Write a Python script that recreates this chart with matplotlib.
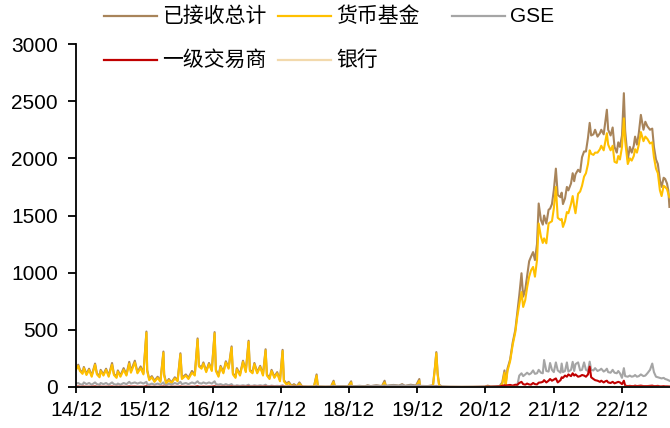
import pandas as pd
import matplotlib
matplotlib.use("Agg")
import matplotlib.pyplot as plt
from matplotlib.lines import Line2D

plt.rcParams['font.family'] = ['Liberation Sans', 'Noto Sans CJK SC', 'DejaVu Sans']

# dates (one row per year group)
dates = [
    # 2014-2015
    '2014-12-19', '2014-12-31', '2015-01-09', '2015-01-23', '2015-01-30', '2015-02-13', '2015-02-27',
    '2015-03-13', '2015-03-31', '2015-04-10', '2015-04-24', '2015-04-30', '2015-05-15', '2015-05-29',
    '2015-06-12', '2015-06-30', '2015-07-10', '2015-07-24', '2015-07-31', '2015-08-14', '2015-08-31',
    '2015-09-15', '2015-09-30', '2015-10-09', '2015-10-30', '2015-11-13', '2015-11-30', '2015-12-15',
    '2015-12-31',
    # 2016
    '2016-01-04', '2016-01-15', '2016-01-29', '2016-02-12', '2016-02-29', '2016-03-15', '2016-03-31',
    '2016-04-04', '2016-04-15', '2016-04-29', '2016-05-13', '2016-05-31', '2016-06-15', '2016-06-30',
    '2016-07-08', '2016-07-29', '2016-08-12', '2016-08-31', '2016-09-15', '2016-09-30', '2016-10-07',
    '2016-10-21', '2016-10-31', '2016-11-15', '2016-11-30', '2016-12-15', '2016-12-30',
    # 2017
    '2017-01-06', '2017-01-20', '2017-01-31', '2017-02-15', '2017-02-28', '2017-03-15', '2017-03-31',
    '2017-04-07', '2017-04-21', '2017-04-28', '2017-05-15', '2017-05-31', '2017-06-15', '2017-06-30',
    '2017-07-07', '2017-07-21', '2017-07-31', '2017-08-15', '2017-08-31', '2017-09-15', '2017-09-29',
    '2017-10-06', '2017-10-20', '2017-10-31', '2017-11-15', '2017-11-30', '2017-12-15', '2017-12-29',
    # 2018
    '2018-01-05', '2018-01-19', '2018-01-31', '2018-02-15', '2018-02-28', '2018-03-15', '2018-03-29',
    '2018-04-13', '2018-05-15', '2018-06-15', '2018-06-29', '2018-07-06', '2018-08-15', '2018-09-14',
    '2018-09-28', '2018-10-05', '2018-11-15', '2018-12-14', '2018-12-31',
    # 2019
    '2019-01-04', '2019-02-15', '2019-03-15', '2019-03-29', '2019-04-15', '2019-05-15', '2019-06-14',
    '2019-06-28', '2019-07-05', '2019-08-15', '2019-09-13', '2019-09-30', '2019-10-15', '2019-11-15',
    '2019-12-13', '2019-12-31',
    # 2020
    '2020-01-03', '2020-02-14', '2020-03-13', '2020-03-24', '2020-03-31', '2020-04-07', '2020-04-15',
    '2020-04-30', '2020-06-15', '2020-08-14', '2020-10-15', '2020-12-15', '2020-12-31',
    # 2021
    '2021-01-15', '2021-02-12', '2021-03-05', '2021-03-19', '2021-03-31', '2021-04-06', '2021-04-16',
    '2021-04-30', '2021-05-14', '2021-05-28', '2021-06-07', '2021-06-18', '2021-06-30', '2021-07-09',
    '2021-07-20', '2021-07-30', '2021-08-10', '2021-08-20', '2021-08-31', '2021-09-10', '2021-09-21',
    '2021-09-30', '2021-10-12', '2021-10-22', '2021-10-29', '2021-11-10', '2021-11-22', '2021-11-30',
    '2021-12-10', '2021-12-20', '2021-12-31',
    # 2022
    '2022-01-10', '2022-01-25', '2022-01-31', '2022-02-07', '2022-02-18', '2022-02-28', '2022-03-08',
    '2022-03-22', '2022-03-31', '2022-04-08', '2022-04-15', '2022-04-29', '2022-05-10', '2022-05-20',
    '2022-05-31', '2022-06-10', '2022-06-21', '2022-06-30', '2022-07-08', '2022-07-20', '2022-07-29',
    '2022-08-11', '2022-08-24', '2022-08-31', '2022-09-13', '2022-09-22', '2022-09-30', '2022-10-07',
    '2022-10-20', '2022-10-31', '2022-11-10', '2022-11-22', '2022-11-30', '2022-12-09', '2022-12-20',
    '2022-12-30',
    # 2023
    '2023-01-06', '2023-01-20', '2023-01-31', '2023-02-10', '2023-02-21', '2023-02-28', '2023-03-10',
    '2023-03-20', '2023-03-31', '2023-04-14', '2023-04-24', '2023-05-05', '2023-05-19', '2023-05-31',
    '2023-06-09', '2023-06-20', '2023-06-30', '2023-07-11', '2023-07-20', '2023-07-31', '2023-08-08',
    '2023-08-18', '2023-08-25', '2023-08-31',
]

# 已接收总计 (bn USD)
total = [
    160, 195, 150, 125, 175, 115, 160, 100, 205, 120, 95, 150, 110, 160, 100, 210, 115, 90, 145, 100,
    165, 110, 220, 140, 230, 130, 180, 120, 485,
    150, 70, 95, 55, 90, 55, 310, 110, 35, 70, 40, 85, 60, 295, 80, 110, 80, 140, 110, 425, 190, 170,
    215, 140, 210, 150, 480,
    150, 100, 185, 130, 225, 170, 355, 120, 90, 165, 110, 230, 140, 405, 150, 130, 210, 130, 185, 110,
    330, 110, 80, 150, 90, 130, 60, 325,
    60, 30, 45, 10, 25, 6, 40, 4, 3, 5, 110, 5, 3, 4, 55, 5, 8, 5, 50,
    6, 10, 6, 15, 8, 15, 8, 55, 10, 18, 12, 25, 10, 20, 12, 70,
    10, 8, 15, 180, 305, 120, 20, 4, 2, 1, 2, 3, 12,
    4, 6, 8, 40, 145, 25, 160, 240, 390, 500, 640, 800, 995, 790, 850, 970, 1100, 1140, 1180, 1110,
    1250, 1605, 1460, 1420, 1500, 1430, 1550, 1560, 1600, 1720, 1910,
    1680, 1660, 1700, 1600, 1650, 1750, 1720, 1780, 1870, 1800, 1860, 1900, 1880, 2010, 2060, 2060,
    2180, 2310, 2200, 2210, 2250, 2190, 2220, 2250, 2210, 2320, 2425, 2250, 2200, 2270, 2100, 2050,
    2140, 2100, 2200, 2570,
    2240, 1990, 2100, 2050, 2110, 2190, 2120, 2220, 2380, 2250, 2320, 2280, 2250, 2260, 2100, 1990,
    1950, 1810, 1750, 1830, 1820, 1780, 1720, 1575,
]

# 货币基金
mmf = [
    150, 185, 140, 115, 165, 105, 150, 90, 195, 110, 85, 140, 100, 150, 90, 195, 105, 80, 135, 90,
    150, 100, 205, 125, 215, 120, 165, 110, 475,
    140, 60, 85, 45, 80, 45, 300, 100, 28, 60, 32, 75, 50, 285, 70, 100, 70, 125, 100, 415, 180, 160,
    205, 130, 200, 140, 470,
    140, 90, 175, 120, 215, 160, 345, 110, 80, 155, 100, 220, 130, 395, 140, 120, 200, 120, 175, 100,
    320, 100, 70, 140, 80, 120, 50, 315,
    50, 22, 35, 5, 15, 2, 30, 1, 1, 1, 100, 1, 0, 0, 45, 0, 1, 0, 40,
    0, 2, 0, 5, 0, 2, 1, 40, 2, 3, 2, 10, 1, 5, 2, 55,
    2, 1, 5, 170, 295, 110, 10, 0, 0, 0, 0, 0, 5,
    0, 0, 0, 25, 125, 8, 140, 225, 370, 480, 610, 720, 830, 700, 760, 870, 965, 1020, 1050, 965,
    1110, 1430, 1315, 1260, 1300, 1257, 1430, 1440, 1450, 1560, 1750,
    1480, 1460, 1470, 1400, 1450, 1530, 1520, 1600, 1670, 1580, 1520, 1690, 1710, 1760, 1840, 1870,
    1950, 2070, 2040, 2030, 2050, 2050, 2080, 2110, 2070, 2150, 2220, 2120, 2070, 2110, 1970, 1960,
    2020, 1990, 2100, 2350,
    2150, 1950, 2000, 1980, 2020, 2080, 2050, 2120, 2230, 2150, 2190, 2170, 2130, 2140, 2010, 1910,
    1870, 1720, 1670, 1760, 1750, 1730, 1690, 1660,
]

# GSE
gse = [
    30, 35, 25, 20, 40, 25, 35, 20, 40, 25, 20, 35, 25, 35, 20, 40, 25, 20, 30, 20,
    35, 25, 45, 30, 40, 30, 40, 30, 45,
    25, 20, 30, 20, 30, 20, 40, 25, 15, 30, 20, 35, 25, 45, 25, 35, 25, 40, 30, 50, 35, 30,
    40, 30, 40, 30, 50,
    25, 20, 25, 15, 25, 15, 25, 12, 10, 15, 10, 15, 10, 20, 10, 10, 15, 10, 15, 10,
    20, 10, 8, 12, 8, 10, 8, 15,
    8, 6, 10, 4, 8, 3, 10, 2, 2, 3, 10, 3, 2, 3, 12, 4, 6, 4, 12,
    5, 8, 5, 10, 7, 12, 6, 15, 8, 15, 10, 18, 8, 15, 10, 20,
    8, 7, 8, 8, 10, 6, 5, 3, 1, 1, 1, 2, 4,
    2, 3, 3, 5, 5, 2, 5, 8, 8, 10, 10, 100, 120, 95, 110, 125, 110, 120, 145, 115,
    120, 150, 125, 120, 236, 140, 135, 210, 150, 130, 215,
    145, 125, 205, 130, 140, 215, 135, 150, 220, 140, 200, 215, 145, 150, 215, 150,
    140, 222, 150, 145, 165, 140, 150, 160, 135, 145, 160, 130, 125, 150, 125, 120,
    140, 120, 80, 165,
    95, 90, 100, 90, 95, 105, 90, 95, 110, 95, 100, 120, 150, 205, 130, 90,
    85, 80, 75, 80, 70, 65, 60, 55,
]

# 一级交易商
dealer = [
    3, 5, 2, 2, 4, 2, 3, 2, 6, 2, 2, 3, 2, 3, 2, 5, 2, 2, 3, 2,
    3, 2, 6, 3, 4, 2, 3, 2, 8,
    3, 2, 2, 2, 2, 2, 6, 3, 2, 2, 2, 3, 2, 5, 2, 3, 2, 3, 2, 8, 3, 2,
    4, 2, 4, 3, 8,
    3, 2, 3, 2, 3, 2, 6, 2, 2, 3, 2, 3, 2, 6, 2, 2, 3, 2, 3, 2,
    5, 2, 2, 3, 2, 2, 2, 5,
    2, 1, 2, 1, 2, 1, 2, 1, 0, 0, 2, 0, 0, 0, 1, 0, 0, 0, 1,
    0, 0, 0, 0, 0, 0, 0, 1, 0, 0, 0, 0, 0, 0, 0, 1,
    0, 0, 1, 1, 1, 1, 0, 0, 0, 0, 0, 1, 3,
    2, 3, 5, 10, 15, 12, 15, 18, 12, 20, 18, 35, 45, 25, 20, 30, 22, 20, 35, 25,
    22, 38, 40, 45, 60, 40, 55, 70, 55, 65, 75,
    40, 60, 85, 80, 100, 90, 110, 95, 120, 100, 110, 90, 95, 105, 100, 90,
    110, 178, 85, 70, 60, 55, 45, 55, 40, 50, 55, 40, 35, 45, 32, 40,
    45, 40, 25, 55,
    12, 8, 10, 8, 8, 12, 8, 10, 12, 8, 8, 8, 10, 12, 8, 8,
    10, 6, 6, 8, 6, 6, 5, 5,
]

# 银行
bank = [
    1, 2, 1, 1, 1, 1, 1, 1, 2, 1, 1, 1, 1, 1, 1, 2, 1, 1, 1, 1,
    1, 1, 2, 1, 1, 1, 1, 1, 2,
    1, 1, 1, 1, 1, 1, 2, 1, 1, 1, 1, 1, 1, 2, 1, 1, 1, 1, 1, 2, 1, 1,
    1, 1, 1, 1, 2,
    1, 1, 1, 1, 1, 1, 2, 1, 1, 1, 1, 1, 1, 2, 1, 1, 1, 1, 1, 1,
    2, 1, 1, 1, 1, 1, 1, 2,
    1, 1, 1, 0, 0, 0, 1, 0, 0, 0, 1, 0, 0, 0, 0, 0, 0, 0, 0,
    0, 0, 0, 0, 0, 0, 0, 0, 0, 0, 0, 0, 0, 0, 0, 0,
    0, 0, 0, 0, 0, 0, 0, 0, 0, 0, 0, 0, 0,
    0, 0, 0, 0, 0, 0, 1, 1, 1, 1, 1, 1, 1, 1, 1, 1, 1, 1, 1, 1,
    1, 1, 1, 1, 1, 1, 1, 1, 1, 1, 1,
    1, 1, 1, 1, 1, 1, 1, 1, 1, 1, 1, 1, 1, 1, 1, 1,
    1, 1, 1, 1, 1, 1, 1, 1, 1, 1, 1, 1, 1, 1, 1, 1,
    1, 1, 1, 1,
    1, 1, 1, 1, 1, 1, 1, 1, 1, 1, 1, 1, 1, 1, 1, 1,
    1, 1, 1, 1, 1, 1, 1, 1,
]

tick_dates = ['2014-12-19', '2015-12-19', '2016-12-19', '2017-12-19', '2018-12-19',
              '2019-12-19', '2020-12-19', '2021-12-19', '2022-12-19']
tick_labels = ['14/12', '15/12', '16/12', '17/12', '18/12', '19/12', '20/12', '21/12', '22/12']

series_names = ['已接收总计', '货币基金', 'GSE', '一级交易商', '银行']
colors = ['#A8845A', '#FFC000', '#A5A5A5', '#C00000', '#F2D9AC']

x = pd.to_datetime(dates)

W, H = 670, 428
fig = plt.figure(figsize=(W / 100, H / 100), dpi=100)
ax = fig.add_axes([76 / W, 41 / H, 594 / W, 343 / H])

for vals, c in zip([total, mmf, gse, dealer, bank], colors):
    ax.plot(x, vals, color=c, lw=1.5, solid_joinstyle='round')

ax.set_ylim(0, 3000)
ax.set_yticks(range(0, 3001, 500))
ax.set_xlim(pd.Timestamp('2014-12-19'), pd.Timestamp('2023-09-03'))
ax.set_xticks(pd.to_datetime(tick_dates))
ax.set_xticklabels(tick_labels)

for side in ['top', 'right']:
    ax.spines[side].set_visible(False)
for side in ['left', 'bottom']:
    ax.spines[side].set_linewidth(1.3)
    ax.spines[side].set_color('black')
ax.tick_params(axis='y', direction='out', length=6, width=1.3, pad=7, labelsize=15)
ax.tick_params(axis='x', direction='out', length=4, width=1.3, pad=6, labelsize=15)

# legend drawn by hand (Excel style fixed columns)
leg_pos = [(104, 16), (278, 16), (452, 16), (104, 60), (278, 60)]
for (lx, ly), name, c in zip(leg_pos, series_names, colors):
    fig.add_artist(Line2D([lx / W, (lx + 53) / W], [1 - ly / H, 1 - ly / H],
                          color=c, lw=1.6, transform=fig.transFigure))
    fig.text((lx + 58) / W, 1 - ly / H, name, fontsize=15, va='center', ha='left')

fig.savefig('out.png', dpi=100)
